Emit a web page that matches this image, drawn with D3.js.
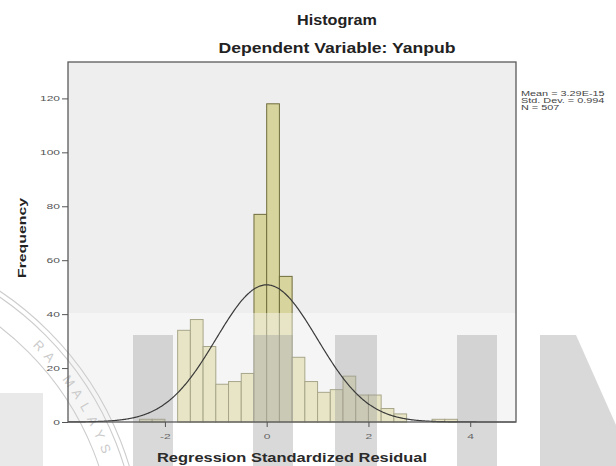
<!DOCTYPE html>
<html>
<head>
<meta charset="utf-8">
<script src="https://cdn.jsdelivr.net/npm/d3@7"></script>
<style>
  html, body { margin: 0; padding: 0; background: #ffffff; }
  svg { display: block; font-family: "Liberation Sans", Arial, sans-serif; }
</style>
</head>
<body>
<svg id="chart" width="616" height="466"></svg>
<script>
// Histogram of standardized residuals (bin lower edges and frequencies)
const binStarts = [-2.5, -2.25, -2.0, -1.75, -1.5, -1.25, -1.0, -0.75, -0.5, -0.25,
                   0.0, 0.25, 0.5, 0.75, 1.0, 1.25, 1.5, 1.75, 2.0, 2.25, 2.5, 2.75, 3.0, 3.25, 3.5];
const binCounts = [1, 1, 0, 34, 38, 28, 14, 15, 18, 77,
                   118, 54, 24, 15, 11, 12, 17, 10, 10, 5, 3, 0, 0, 1, 1];
const binWidth = 0.25;

// Summary statistics used for the fitted normal curve
const meanValue = 3.29e-15;
const sdValue = 0.994;
const nValue = 507;

// Axis ticks and texts
const yTicks = [0, 20, 40, 60, 80, 100, 120];
const xTicks = [-2, 0, 2, 4];
const statLines = ["Mean = 3.29E-15", "Std. Dev. = 0.994", "N = 507"];
const titleText = "Histogram";
const subtitleText = "Dependent Variable: Yanpub";
const xLabelText = "Regression Standardized Residual";
const yLabelText = "Frequency";
const sealText = "RA MALAYS";

const svg = d3.select("#chart");

const plot = { left: 68, right: 516, top: 62, bottom: 422 };
const x = d3.scaleLinear().domain([-3.905, 4.9]).range([plot.left, plot.right]);
const y = d3.scaleLinear().domain([0, 133.5]).range([plot.bottom, plot.top]);

// stretch text horizontally by factor k (wide SPSS-style lettering)
function stretch(sel, k) {
  sel.each(function () {
    const w = this.getComputedTextLength();
    this.setAttribute("textLength", (w * k).toFixed(1));
    this.setAttribute("lengthAdjust", "spacingAndGlyphs");
  });
}
function fitTo(sel, w) {
  sel.attr("textLength", w).attr("lengthAdjust", "spacingAndGlyphs");
}

// plot background
svg.append("rect")
  .attr("x", plot.left).attr("y", plot.top)
  .attr("width", plot.right - plot.left).attr("height", plot.bottom - plot.top)
  .attr("fill", "#eeeeee");

// bars
const bins = binStarts.map((s, i) => ({ x0: s, x1: s + binWidth, n: binCounts[i] }))
  .filter(d => d.n > 0);
svg.append("g").selectAll("rect").data(bins).join("rect")
  .attr("x", d => x(d.x0))
  .attr("y", d => y(d.n))
  .attr("width", d => x(d.x1) - x(d.x0))
  .attr("height", d => y(0) - y(d.n))
  .attr("fill", "#d8d49e")
  .attr("stroke", "#6f6c3c")
  .attr("stroke-width", 1);

// faint institutional watermark overlay (below the line work and text)
const wm = svg.append("g").attr("pointer-events", "none");
wm.append("rect")
  .attr("x", 0).attr("y", 313).attr("width", 616).attr("height", 153)
  .attr("fill", "#ffffff").attr("opacity", 0.4);
const stems = [[133, 173], [253, 293], [335, 377], [457, 497]];
wm.selectAll("rect.stem").data(stems).join("rect")
  .attr("class", "stem")
  .attr("x", d => d[0]).attr("y", 335)
  .attr("width", d => d[1] - d[0]).attr("height", 131)
  .attr("fill", "#9a9a9a").attr("opacity", 0.38);
wm.append("path")
  .attr("d", "M540,335 L576,335 L616,425 L616,466 L540,466 Z")
  .attr("fill", "#9a9a9a").attr("opacity", 0.38);
wm.append("rect")
  .attr("x", 0).attr("y", 393).attr("width", 43).attr("height", 73)
  .attr("fill", "#9a9a9a").attr("opacity", 0.22);

// seal rings and lettering
const sealC = [-179, 559];
[322, 317, 293].forEach(r => {
  wm.append("circle")
    .attr("cx", sealC[0]).attr("cy", sealC[1]).attr("r", r)
    .attr("fill", "none").attr("stroke", "#cdcdcd").attr("stroke-width", 1.1);
});
wm.selectAll("text.seal").data(sealText.split("")).join("text")
  .attr("class", "seal")
  .attr("text-anchor", "middle")
  .attr("dominant-baseline", "central")
  .attr("font-size", 13)
  .attr("fill", "#cbcbcb")
  .attr("transform", (c, i) => {
    const a = (-44.4 + i * 2.9) * Math.PI / 180;
    const px = sealC[0] + 305 * Math.cos(a), py = sealC[1] + 305 * Math.sin(a);
    return `translate(${px.toFixed(1)},${py.toFixed(1)}) rotate(${(a * 180 / Math.PI + 90).toFixed(1)})`;
  })
  .text(c => c);

// fitted normal curve
const pdf = v => Math.exp(-0.5 * Math.pow((v - meanValue) / sdValue, 2)) / (sdValue * Math.sqrt(2 * Math.PI));
const xs = d3.range(x.domain()[0], x.domain()[1] + 0.001, 0.02);
svg.append("path")
  .datum(xs)
  .attr("fill", "none")
  .attr("stroke", "#3a3a3a")
  .attr("stroke-width", 1.2)
  .attr("d", d3.line().x(v => x(v)).y(v => y(nValue * binWidth * pdf(v))).curve(d3.curveBasis));

// frame
svg.append("rect")
  .attr("x", plot.left).attr("y", plot.top)
  .attr("width", plot.right - plot.left).attr("height", plot.bottom - plot.top)
  .attr("fill", "none")
  .attr("stroke", "#5a5a5a")
  .attr("stroke-width", 1.3);

// y axis
const yAxis = svg.append("g")
  .attr("transform", `translate(${plot.left},0)`)
  .call(d3.axisLeft(y).tickValues(yTicks).tickSize(6).tickPadding(2).tickFormat(d3.format("d")));
yAxis.select(".domain").remove();
yAxis.selectAll(".tick line").attr("stroke", "#555555");
yAxis.selectAll(".tick text")
  .attr("font-size", 8)
  .attr("font-family", "Liberation Sans, Arial, sans-serif")
  .attr("fill", "#555555")
  .call(stretch, 1.5);

// x axis
const xAxis = svg.append("g")
  .attr("transform", `translate(0,${plot.bottom})`)
  .call(d3.axisBottom(x).tickValues(xTicks).tickSize(5).tickPadding(6).tickFormat(d3.format("d")));
xAxis.select(".domain").remove();
xAxis.selectAll(".tick line").attr("stroke", "#555555");
xAxis.selectAll(".tick text")
  .attr("font-size", 8)
  .attr("font-family", "Liberation Sans, Arial, sans-serif")
  .attr("fill", "#666666")
  .text(d => d < 0 ? "-" + Math.abs(d) : d)
  .call(stretch, 1.5);

// titles
svg.append("text")
  .attr("x", 337).attr("y", 25)
  .attr("text-anchor", "middle")
  .attr("font-size", 15).attr("font-weight", "bold").attr("fill", "#222")
  .text(titleText).call(fitTo, 80);
svg.append("text")
  .attr("x", 337).attr("y", 53)
  .attr("text-anchor", "middle")
  .attr("font-size", 15).attr("font-weight", "bold").attr("fill", "#222")
  .text(subtitleText).call(fitTo, 237);

// axis labels
svg.append("text")
  .attr("x", (plot.left + plot.right) / 2).attr("y", 462)
  .attr("text-anchor", "middle")
  .attr("font-size", 13).attr("font-weight", "bold").attr("fill", "#2a2a2a")
  .text(xLabelText).call(fitTo, 270);
svg.append("text")
  .attr("transform", "translate(26,238) rotate(-90)")
  .attr("text-anchor", "middle")
  .attr("font-size", 11.5).attr("font-weight", "bold").attr("fill", "#222")
  .text(yLabelText).call(fitTo, 80);

// statistics box text
svg.append("g").selectAll("text").data(statLines).join("text")
  .attr("x", 521)
  .attr("y", (d, i) => 96 + i * 7)
  .attr("font-size", 7)
  .attr("fill", "#444")
  .text(d => d)
  .call(stretch, 1.55);
</script>
</body>
</html>
